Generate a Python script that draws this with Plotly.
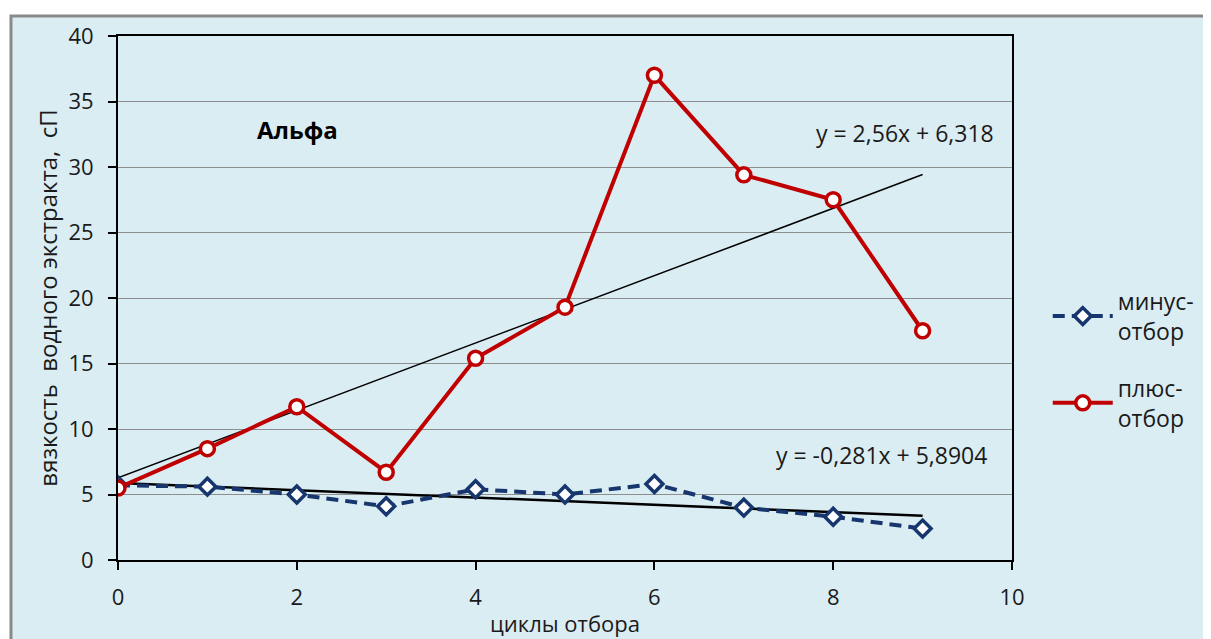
import numpy as np
import plotly.graph_objects as go

cycles = [0, 1, 2, 3, 4, 5, 6, 7, 8, 9]
minus_otbor = [5.7, 5.6, 5.0, 4.1, 5.4, 5.0, 5.8, 4.0, 3.3, 2.4]
plus_otbor = [5.5, 8.5, 11.7, 6.7, 15.4, 19.3, 37.0, 29.4, 27.5, 17.5]
x_ticks = [0, 2, 4, 6, 8, 10]
y_ticks = [0, 5, 10, 15, 20, 25, 30, 35, 40]
eq_plus = "y = 2,56x + 6,318"
eq_minus = "y = -0,281x + 5,8904"
title_text = "Альфа"
y_title = "вязкость\u00a0\u00a0водного экстракта,\u00a0\u00a0сП"
x_title = "циклы отбора"

FONT = "Open Sans"
RED = "#C00000"
BLUE = "#17366E"
TXT = "#1a1a1a"

fig = go.Figure()

# trend lines (least squares from data)
x_arr = np.array(cycles, dtype=float)
kp, bp = np.polyfit(x_arr, plus_otbor, 1)
km, bm = np.polyfit(x_arr, minus_otbor, 1)
xe = [x_arr[0], x_arr[-1]]
fig.add_trace(go.Scatter(x=xe, y=[bp + kp * v for v in xe], mode="lines",
                         line=dict(color="black", width=1.5), showlegend=False, hoverinfo="skip"))
fig.add_trace(go.Scatter(x=xe, y=[bm + km * v for v in xe], mode="lines",
                         line=dict(color="black", width=2.5), showlegend=False, hoverinfo="skip"))

fig.add_trace(go.Scatter(x=cycles, y=minus_otbor, mode="lines+markers", name="минус-<br>отбор",
                         legendgroup="a",
                         line=dict(color=BLUE, width=4, dash="12px,7px"),
                         marker=dict(symbol="diamond", size=13, color="white", line=dict(width=3.5, color=BLUE))))
fig.add_trace(go.Scatter(x=cycles, y=plus_otbor, mode="lines+markers", name="плюс-<br>отбор",
                         legendgroup="b",
                         line=dict(color=RED, width=4),
                         marker=dict(symbol="circle", size=14, color="white", line=dict(width=3.5, color=RED))))

fig.add_annotation(x=2.01, y=32.9, text="<b>" + title_text + "</b>", showarrow=False,
                   font=dict(family=FONT, size=24, color="black"), xanchor="center", yanchor="middle")
fig.add_annotation(x=9.82, y=32.6, text=eq_plus, showarrow=False,
                   font=dict(family=FONT, size=23, color=TXT), xanchor="right", yanchor="middle")
fig.add_annotation(x=9.74, y=8.0, text=eq_minus, showarrow=False,
                   font=dict(family=FONT, size=23, color=TXT), xanchor="right", yanchor="middle")

# outer light-blue frame
fig.add_shape(type="rect", xref="paper", yref="paper", x0=-0.1197, x1=1.26, y0=-0.2, y1=1.038,
              fillcolor="#DAEDF3", line=dict(color="#8A8A8A", width=3), layer="below")

fig.update_layout(
    width=1211, height=639,
    margin=dict(l=110, r=207, t=25, b=87),
    paper_bgcolor="white", plot_bgcolor="white",
    font=dict(family=FONT, size=22, color=TXT),
    legend=dict(x=1.040, y=0.535, xanchor="left", yanchor="top", bgcolor="rgba(0,0,0,0)",
                font=dict(family=FONT, size=23, color=TXT), tracegroupgap=24, itemwidth=60),
    xaxis=dict(range=[0, 10], tickvals=x_ticks, ticks="outside", ticklen=8, tickwidth=2,
               tickcolor="black", showgrid=False, zeroline=False, showline=True, linecolor="black",
               linewidth=2, mirror=True, tickfont=dict(size=22, color=TXT), ticklabelstandoff=9,
               title=dict(text=x_title, font=dict(size=22, color=TXT), standoff=6)),
    yaxis=dict(range=[0, 40], tickvals=y_ticks, ticks="outside", ticklen=8, tickwidth=2,
               tickcolor="black", showgrid=True, gridcolor="#8E8E8E", gridwidth=1, zeroline=False,
               showline=True, linecolor="black", linewidth=2, mirror=True,
               tickfont=dict(size=22, color=TXT), ticklabelstandoff=10,
               title=dict(text=y_title, font=dict(size=24, color=TXT), standoff=4)),
)

fig.write_html("out.html")
